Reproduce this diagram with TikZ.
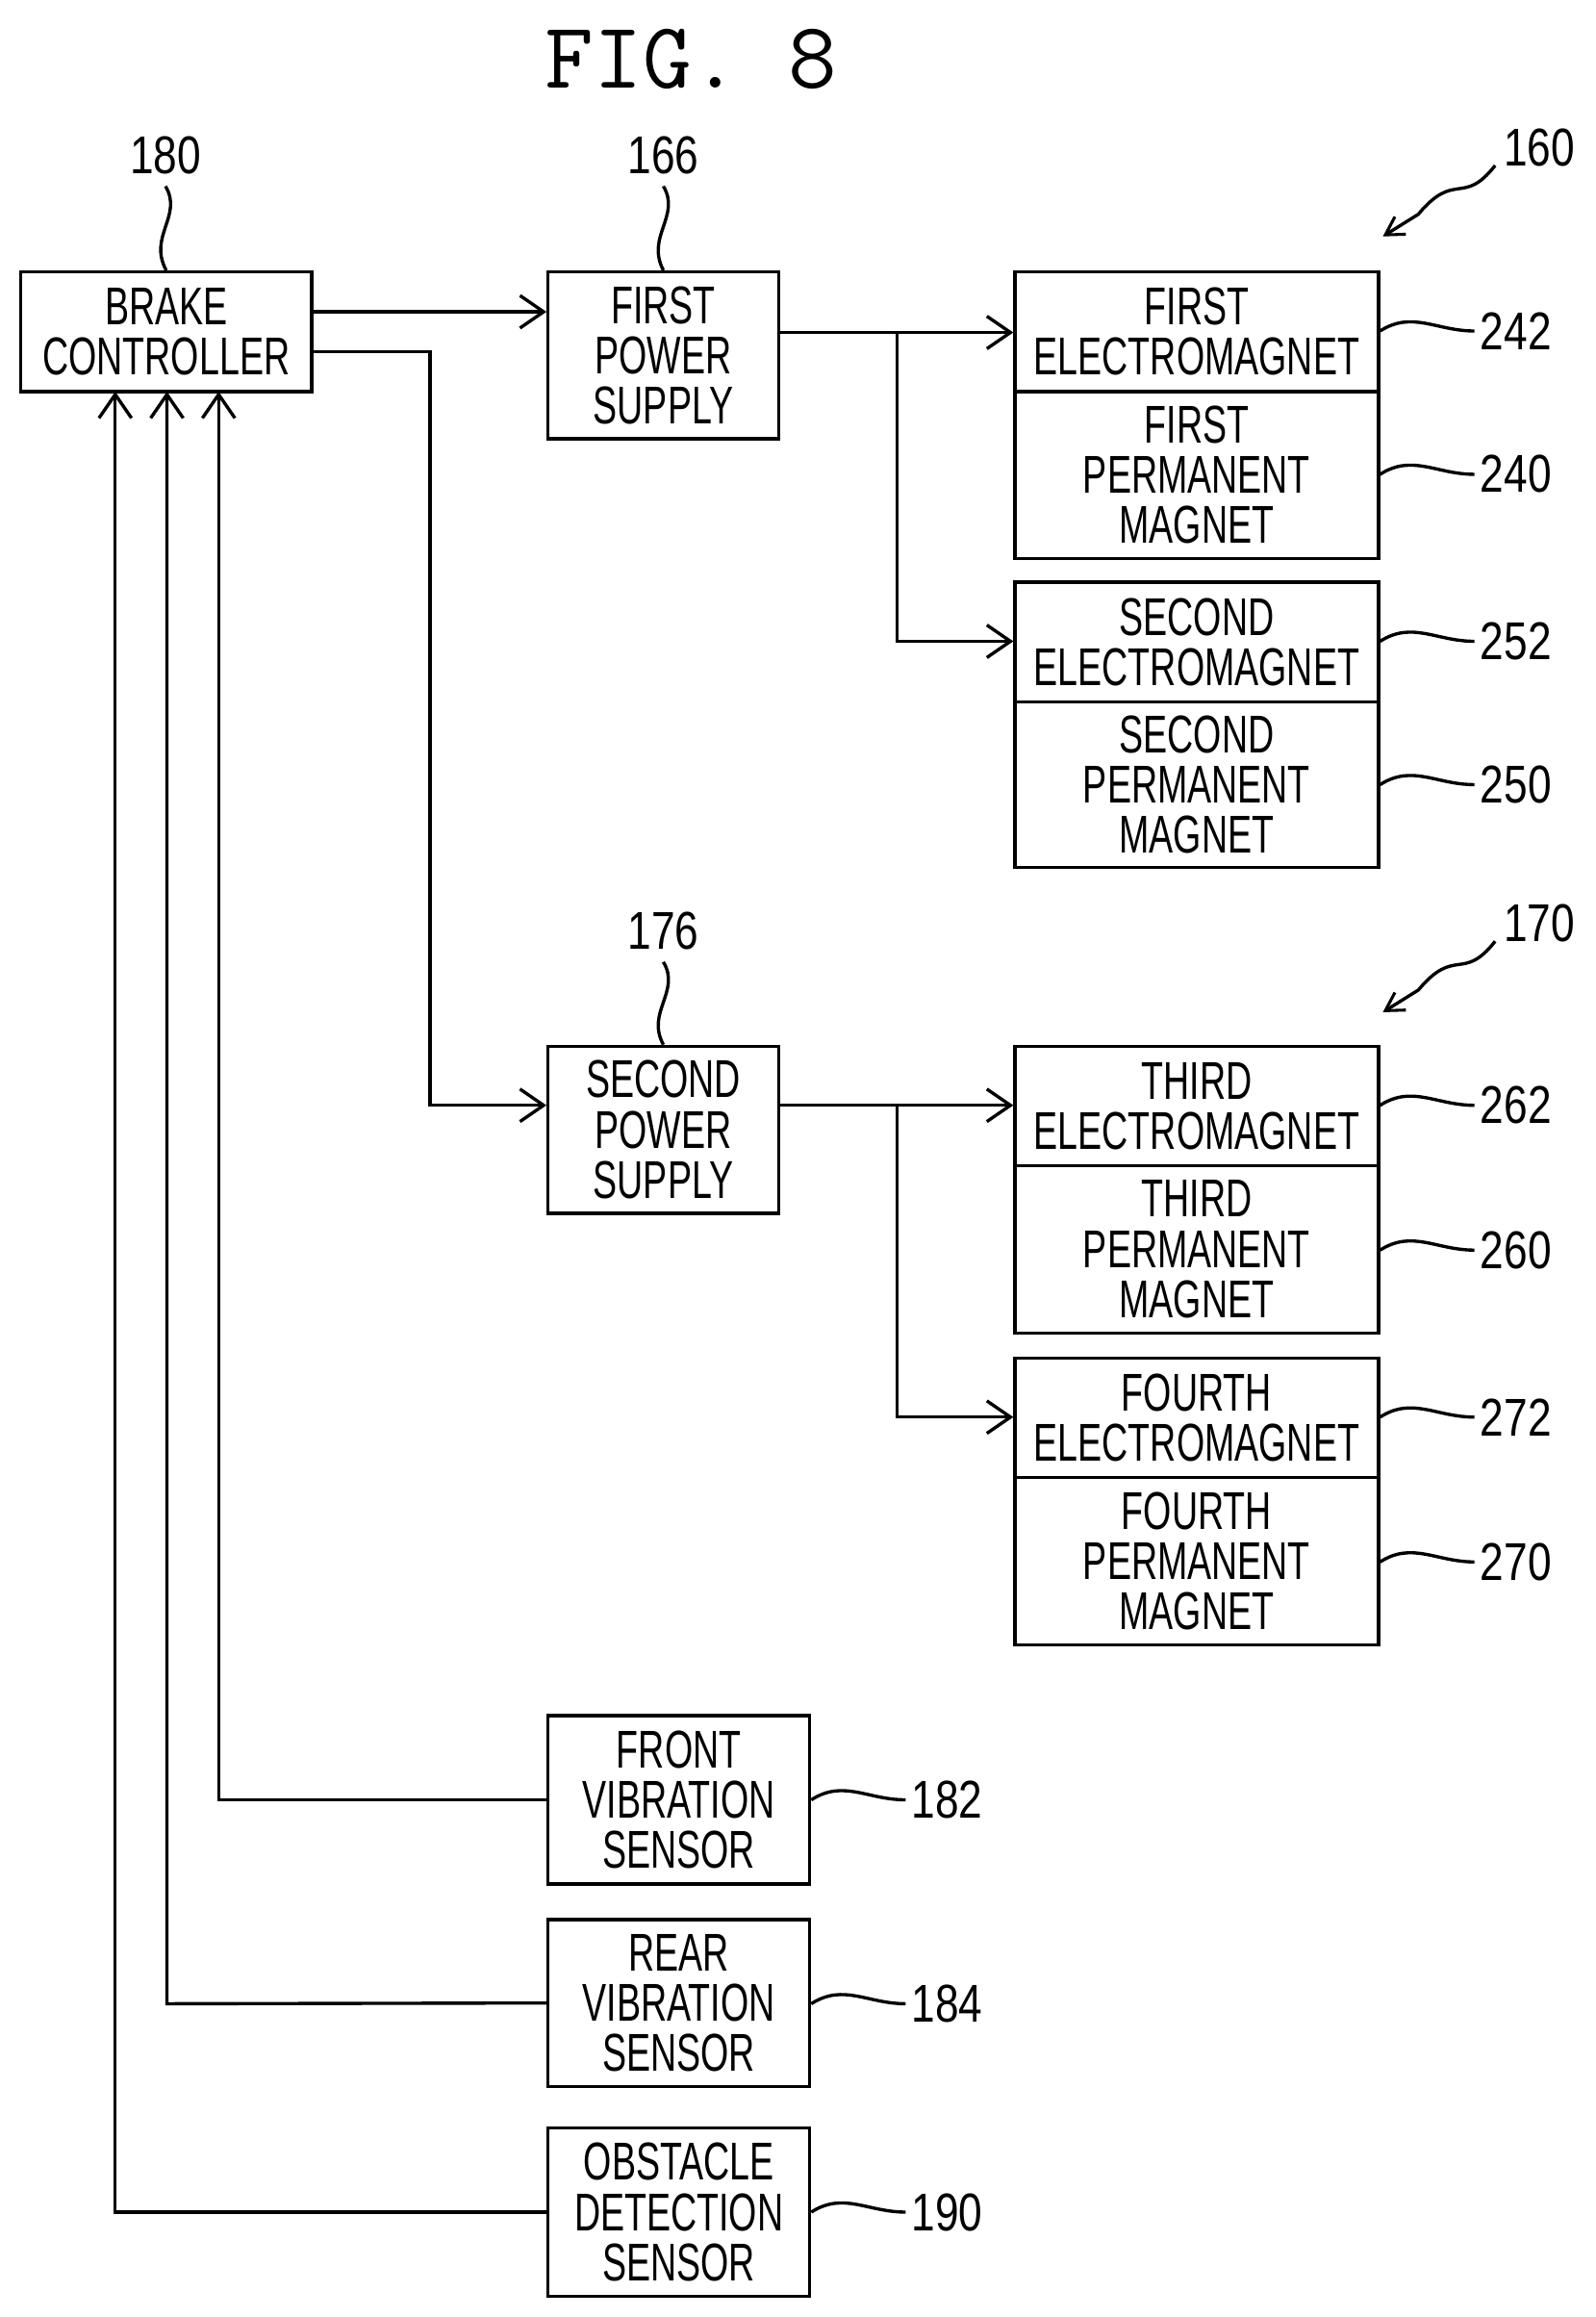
\documentclass[tikz,border=0pt]{standalone}
\usepackage{fontspec}
\setmainfont{Liberation Sans}
\usetikzlibrary{arrows.meta}
\newcommand\sq[1]{\scalebox{0.68}[1]{#1}}
\newcommand\nq[1]{\scalebox{0.8}[1]{#1}}
\begin{document}
\begin{tikzpicture}[x=1pt,y=-1pt,line width=2.2pt,
  bx/.style={draw,inner sep=0pt,align=center,font=\fontsize{36}{34}\selectfont},
  lb/.style={font=\fontsize{36}{34}\selectfont,inner sep=0pt},
  ar/.style={-{Straight Barb[length=16pt,width=22pt,line width=2.2pt]}}]
\useasboundingbox (0,0) rectangle (1080,1568);
\fill[white] (0,0) rectangle (1080,1568);
\node[font=\fontsize{64}{64}\ttfamily] (title) at (468,40) {FIG. 8};
\def\B#1#2#3#4#5#6{\node[bx,minimum width={#4-#2},minimum height={#5-#3}] (#1) at ({(#2+#4)/2},{(#3+#5)/2}) {#6};}
\B{bc}{14}{184}{211}{265}{\sq{BRAKE}\\\sq{CONTROLLER}}
\B{fps}{371}{184}{527}{297}{\sq{FIRST}\\\sq{POWER}\\\sq{SUPPLY}}
\B{em1}{687}{184}{933}{265}{\sq{FIRST}\\\sq{ELECTROMAGNET}}
\B{pm1}{687}{265}{933}{378}{\sq{FIRST}\\\sq{PERMANENT}\\\sq{MAGNET}}
\B{em2}{687}{394}{933}{475}{\sq{SECOND}\\\sq{ELECTROMAGNET}}
\B{pm2}{687}{475}{933}{587}{\sq{SECOND}\\\sq{PERMANENT}\\\sq{MAGNET}}
\B{sps}{371}{708}{527}{821}{\sq{SECOND}\\\sq{POWER}\\\sq{SUPPLY}}
\B{em3}{687}{708}{933}{789}{\sq{THIRD}\\\sq{ELECTROMAGNET}}
\B{pm3}{687}{789}{933}{902}{\sq{THIRD}\\\sq{PERMANENT}\\\sq{MAGNET}}
\B{em4}{687}{919}{933}{1000}{\sq{FOURTH}\\\sq{ELECTROMAGNET}}
\B{pm4}{687}{1000}{933}{1113}{\sq{FOURTH}\\\sq{PERMANENT}\\\sq{MAGNET}}
\B{fvs}{371}{1161}{548}{1275}{\sq{FRONT}\\\sq{VIBRATION}\\\sq{SENSOR}}
\B{rvs}{371}{1299}{548}{1412}{\sq{REAR}\\\sq{VIBRATION}\\\sq{SENSOR}}
\B{ods}{371}{1440}{548}{1554}{\sq{OBSTACLE}\\\sq{DETECTION}\\\sq{SENSOR}}
% connectors
\draw[ar] (bc.east|-0,211) -- (fps.west|-0,211);
\draw[ar] (bc.east|-0,238) -- (291,238) -- (291,748) -- (sps.west|-0,748);
\coordinate (j1) at (607,225);
\draw[ar] (fps.east|-j1) -- (j1) -- (em1.west|-j1);
\draw[ar] (j1) -- (607,434) -- (em2.west|-0,434);
\coordinate (j2) at (607,748);
\draw[ar] (sps.east|-j2) -- (j2) -- (em3.west|-j2);
\draw[ar] (j2) -- (607,959) -- (em4.west|-0,959);
\draw[ar] (fvs.west) -- (148,1218) -- (148,265);
\draw[ar] (rvs.west) -- (113,1356) -- (113,265);
\draw[ar] (ods.west) -- (78,1497) -- (78,265);
% top labels
\node[lb] (l180) at (112,105) {\nq{180}};
\draw (112,126) .. controls (124,146) and (100,160) .. (bc.north);
\node[lb] (l166) at (449,105) {\nq{166}};
\draw (449,126) .. controls (461,146) and (437,160) .. (fps.north);
\node[lb] (l176) at (449,630) {\nq{176}};
\draw (449,651) .. controls (461,671) and (437,685) .. (sps.north);
\node[lb] (l160) at (1042,100) {\nq{160}};
\coordinate (a160) at (936,160);
\draw[-{Straight Barb[length=12pt,width=14pt,line width=2pt]}] (1012,112) .. controls (990,140) and (985,115) .. (960,145) -- (a160);
\node[lb] (l170) at (1042,625) {\nq{170}};
\coordinate (a170) at (936,685);
\draw[-{Straight Barb[length=12pt,width=14pt,line width=2pt]}] (1012,637) .. controls (990,665) and (985,640) .. (960,670) -- (a170);
% right labels
\def\R#1#2#3#4{\node[lb,anchor=west] (l#1) at ({#3+68},#4) {\nq{#1}};
 \draw (#2.east|-0,#4) .. controls +(22,-14) and +(-26,0) .. ({#3+65},#4);}
\R{242}{em1}{933}{224}
\R{240}{pm1}{933}{321}
\R{252}{em2}{933}{434}
\R{250}{pm2}{933}{531}
\R{262}{em3}{933}{748}
\R{260}{pm3}{933}{846}
\R{272}{em4}{933}{959}
\R{270}{pm4}{933}{1057}
\R{182}{fvs}{548}{1218}
\R{184}{rvs}{548}{1356}
\R{190}{ods}{548}{1497}
\end{tikzpicture}
\end{document}
